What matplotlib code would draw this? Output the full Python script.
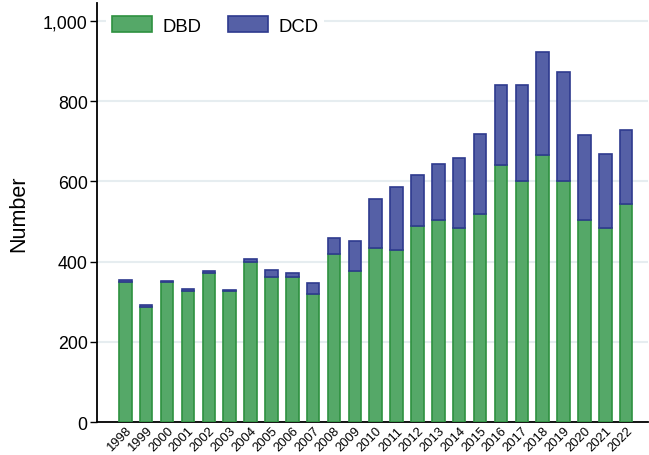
import numpy as np
import matplotlib.pyplot as plt
from matplotlib.ticker import FuncFormatter

years = [str(y) for y in range(1998, 2023)]
dbd = [350, 287, 350, 327, 371, 326, 400, 361, 361, 320, 418, 377, 435,
       430, 488, 503, 484, 518, 640, 600, 666, 602, 503, 485, 544]
dcd = [4, 4, 3, 4, 5, 3, 7, 19, 12, 28, 42, 75, 120,
       155, 128, 141, 175, 200, 200, 240, 256, 270, 212, 183, 185]

plt.rcParams['font.family'] = ['Liberation Sans', 'DejaVu Sans']

fig = plt.figure(figsize=(6.49, 4.56), dpi=100)
ax = fig.add_axes([0.150, 0.0717, 0.8485, 0.9195])

x = np.arange(len(years))
ax.bar(x, dbd, width=0.6, color='#55A868', edgecolor='#2E9140', linewidth=1.2,
       label='DBD', zorder=3)
ax.bar(x, dcd, bottom=dbd, width=0.6, color='#5560A6', edgecolor='#2E3A8E',
       linewidth=1.2, label='DCD', zorder=3)

ax.set_xlim(-1.34, 25.05)
ax.set_ylim(0, 1044)
ax.set_yticks([0, 200, 400, 600, 800, 1000])
ax.yaxis.set_major_formatter(FuncFormatter(lambda v, p: f'{int(v):,}'))
ax.set_xticks(x)
ax.set_xticklabels(years, rotation=45, ha='right', rotation_mode='anchor', fontsize=9.4)
ax.tick_params(axis='x', length=0, pad=1.5)
ax.tick_params(axis='y', length=5, width=1, labelsize=12.8, pad=2)
ax.set_ylabel('Number', fontsize=15.5, labelpad=10)

ax.grid(axis='y', color='#E6EDF0', linewidth=1.5, zorder=0)
for s in ['top', 'right']:
    ax.spines[s].set_visible(False)
ax.spines['left'].set_linewidth(1.3)
ax.spines['bottom'].set_linewidth(1.3)

leg = ax.legend(loc='center left', ncol=2, fontsize=13.3, frameon=True,
                bbox_to_anchor=(0.164, 0.942), bbox_transform=fig.transFigure,
                handlelength=2.16, handleheight=0.95, borderpad=0.3,
                columnspacing=1.4, handletextpad=0.6, borderaxespad=0)
leg.get_frame().set_edgecolor('none')
leg.get_frame().set_facecolor('white')
leg.get_frame().set_alpha(1)

fig.savefig('out.png', dpi=100)
